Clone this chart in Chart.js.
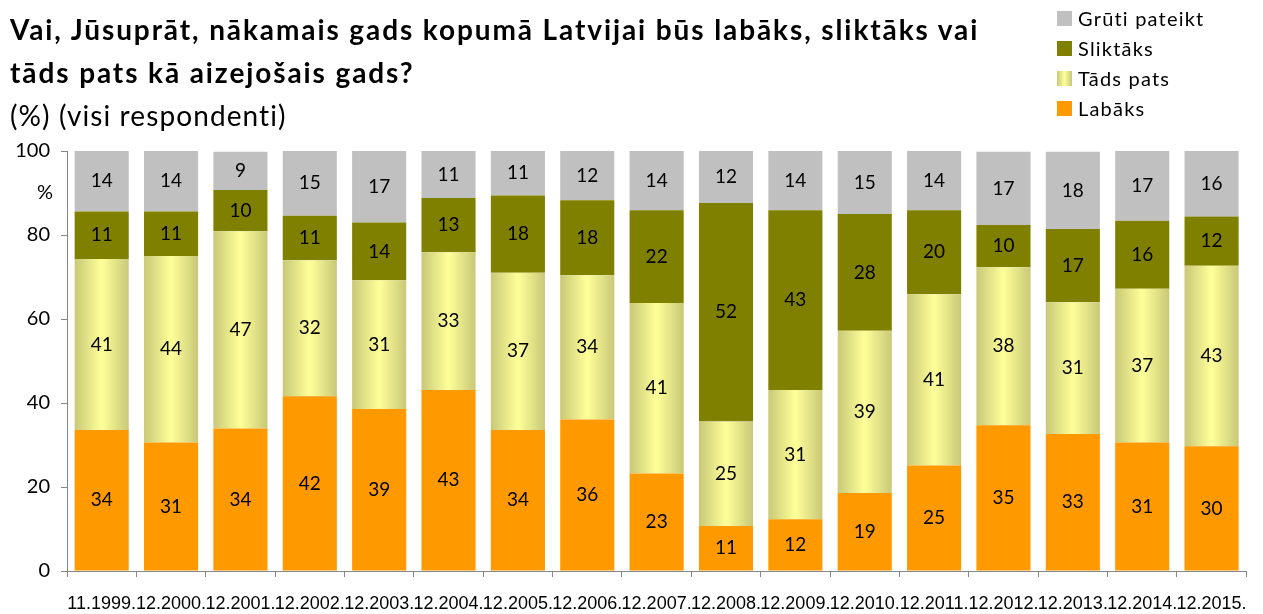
<!DOCTYPE html>
<html>
<head>
<meta charset="utf-8">
<script src="https://cdn.jsdelivr.net/npm/chart.js@4"></script>
<style>
  body { margin: 0; background: #fff; }
  #wrap { position: relative; width: 1263px; height: 614px; }
  #title { position: absolute; left: 10px; top: 8px; font-family: Lato, sans-serif; font-size: 28px; line-height: 43px; color: #000; white-space: nowrap; }
  #title b { font-weight: bold; letter-spacing: 1.9px; }
  #title span { letter-spacing: 1.1px; }
  #legend { position: absolute; left: 1057px; top: 3px; font-family: Lato, sans-serif; font-size: 20px; color: #000; }
  #legend div { height: 30px; line-height: 30px; display: flex; align-items: center; letter-spacing: 1.2px; white-space: nowrap; }
  #legend span.box { display: inline-block; width: 15px; height: 15px; margin-right: 6px; }
  canvas { position: absolute; left: 0; top: 0; }
</style>
</head>
<body>
<div id="wrap">
  <canvas id="barChart" width="1263" height="614"></canvas>
  <div id="title">
    <b>Vai, Jūsuprāt, nākamais gads kopumā Latvijai būs labāks, sliktāks vai</b><br>
    <b>tāds pats kā aizejošais gads?</b><br>
    <span>(%) (visi respondenti)</span>
  </div>
  <div id="legend"></div>
</div>
<script>
// dati (nolasīti no attēla, uzrakstos noapaļoti)
const periods = ['11.1999.', '12.2000.', '12.2001.', '12.2002.', '12.2003.', '12.2004.', '12.2005.', '12.2006.',
    '12.2007.', '12.2008.', '12.2009.', '12.2010.', '12.2011.', '12.2012.', '12.2013.', '12.2014.', '12.2015.'];
const labaks = [33.6, 30.6, 33.9, 41.6, 38.6, 43.1, 33.6, 36.1, 23.2, 10.7, 12.3, 18.6, 25.1, 34.7, 32.6, 30.6, 29.7];
const tadsPats = [40.7, 44.4, 47.0, 32.4, 30.6, 32.8, 37.4, 34.3, 40.6, 24.9, 30.8, 38.6, 40.8, 37.6, 31.4, 36.6, 43.0];
const sliktaks = [11.3, 10.6, 9.8, 10.6, 13.8, 12.9, 18.4, 17.9, 22.1, 52.0, 42.8, 27.8, 20.0, 10.1, 17.4, 16.2, 11.7];
const grutiPateikt = [14.4, 14.4, 9.1, 15.4, 17.0, 11.2, 10.6, 11.7, 14.1, 12.4, 14.1, 15.0, 14.1, 17.4, 18.4, 16.6, 15.6];
const yTicks = [0, 20, 40, 60, 80, 100];

const BAR_PCT = 0.78;

// dzeltenais gradients katram stabiņam
const yellowFill = (c) => {
    const chart = c.chart;
    const xs = chart.scales && chart.scales.x;
    if (!xs || c.dataIndex === undefined || !chart.chartArea) return '#F2F29A';
    const cx = xs.getPixelForValue(c.dataIndex);
    const half = (xs.width / periods.length) * BAR_PCT / 2;
    const g = chart.ctx.createLinearGradient(cx - half, 0, cx + half, 0);
    g.addColorStop(0, '#C8C878');
    g.addColorStop(0.5, '#FFFF99');
    g.addColorStop(1, '#C8C878');
    return g;
};

// skaitļi segmentu vidū
const segmentLabels = {
    id: 'segmentLabels',
    afterDatasetsDraw(chart) {
        const ctx = chart.ctx;
        ctx.save();
        ctx.font = '19px Lato';
        ctx.fillStyle = '#000';
        ctx.textAlign = 'center';
        ctx.textBaseline = 'middle';
        chart.data.datasets.forEach((ds, i) => {
            chart.getDatasetMeta(i).data.forEach((bar, j) => {
                const {x, y, base} = bar.getProps(['x', 'y', 'base'], true);
                const top = Math.max(y, chart.chartArea.top);
                ctx.fillText(Math.round(ds.data[j]), x, (top + base) / 2);
            });
        });
        const ys = chart.scales.y;
        ctx.textAlign = 'right';
        ctx.font = '20px Lato';
        ctx.fillText('%', ys.right - 14, ys.getPixelForValue(90));
        ctx.restore();
    }
};

const datasets = [
    {label: 'Labāks', data: labaks, backgroundColor: '#FF9900'},
    {label: 'Tāds pats', data: tadsPats, backgroundColor: yellowFill},
    {label: 'Sliktāks', data: sliktaks, backgroundColor: '#808000'},
    {label: 'Grūti pateikt', data: grutiPateikt, backgroundColor: '#C0C0C0'}
];

const ctxBar = document.getElementById('barChart').getContext('2d');
new Chart(ctxBar, {
    type: 'bar',
    data: {
        labels: periods,
        datasets: datasets.map(d => Object.assign({barPercentage: BAR_PCT, categoryPercentage: 1, borderWidth: 0}, d))
    },
    options: {
        responsive: false,
        animation: false,
        layout: {padding: {top: 151, right: 13, left: 0, bottom: 0}},
        plugins: {legend: {display: false}, tooltip: {enabled: false}},
        scales: {
            x: {
                stacked: true,
                grid: {drawOnChartArea: false, offset: true, tickLength: 6, color: '#868686'},
                border: {color: '#868686'},
                ticks: {autoSkip: false, maxRotation: 0, minRotation: 0, color: '#000', padding: 16,
                    font: {family: "'Liberation Sans Narrow', 'Liberation Sans'", size: 18}},
                afterFit: (s) => { s.height = 43; }
            },
            y: {
                stacked: true,
                min: 0,
                max: 100,
                afterBuildTicks: (s) => { s.ticks = yTicks.map(v => ({value: v})); },
                grid: {drawOnChartArea: false, tickLength: 6, color: '#868686'},
                border: {color: '#868686'},
                ticks: {color: '#000', padding: 11, font: {family: 'Lato', size: 20}},
                afterFit: (s) => { s.width = 67; }
            }
        }
    },
    plugins: [segmentLabels]
});

// leģenda apgrieztā secībā
const legendEl = document.getElementById('legend');
const legendColors = {'Labāks': '#FF9900', 'Tāds pats': 'linear-gradient(to right, #C8C878, #FFFF99, #C8C878)',
    'Sliktāks': '#808000', 'Grūti pateikt': '#C0C0C0'};
datasets.slice().reverse().forEach(d => {
    const row = document.createElement('div');
    const box = document.createElement('span');
    box.className = 'box';
    box.style.background = legendColors[d.label];
    row.appendChild(box);
    row.appendChild(document.createTextNode(d.label));
    legendEl.appendChild(row);
});
</script>
</body>
</html>
